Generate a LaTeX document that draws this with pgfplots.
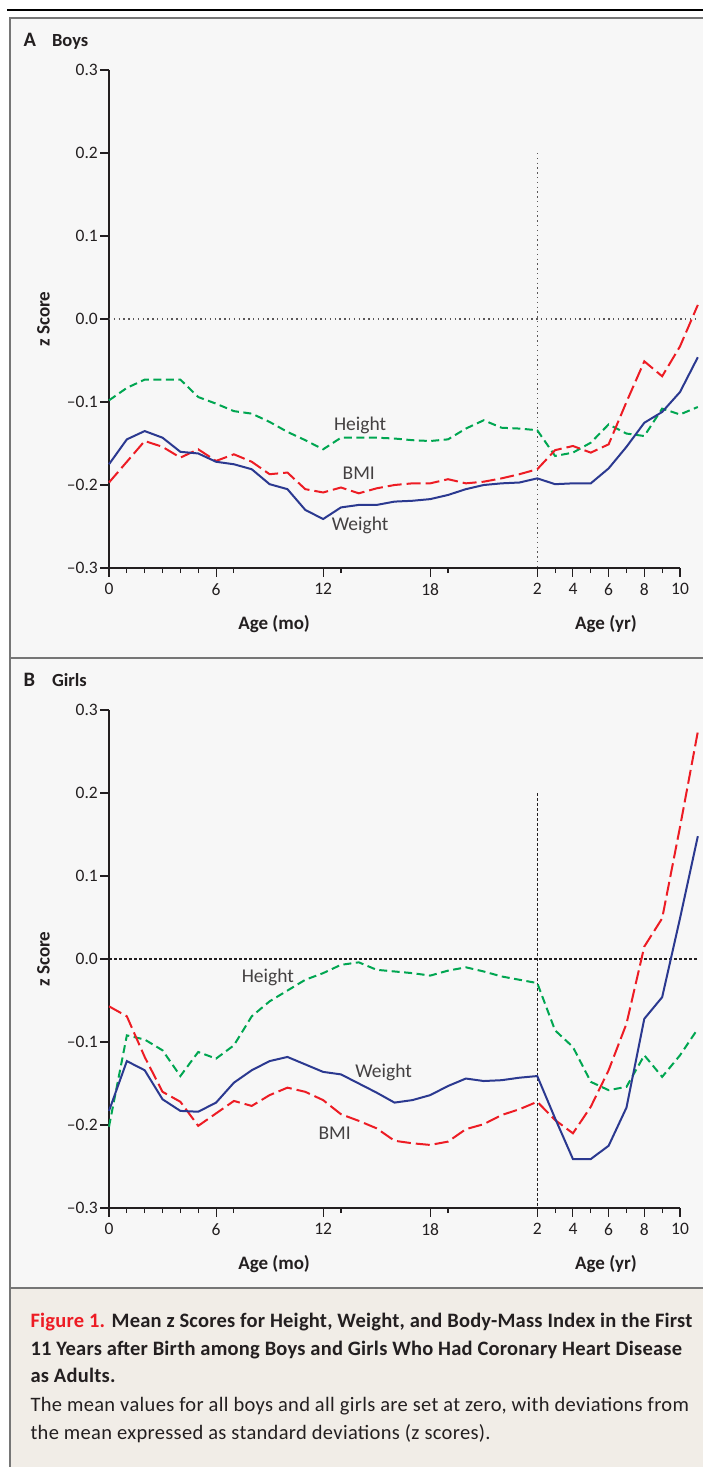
\documentclass[border=0pt]{standalone}
\usepackage{fontspec}
\setmainfont{Carlito}
\newfontfamily\capbold[LetterSpace=1.1]{Carlito Bold}
\newfontfamily\capreg[LetterSpace=1.6]{Carlito}
\usepackage{pgfplots}
\usepackage{pgfplotstable}
\pgfplotsset{compat=1.18}
\definecolor{wblue}{RGB}{43,57,144}
\definecolor{bred}{RGB}{237,28,36}
\definecolor{hgreen}{RGB}{0,166,81}
\definecolor{panelbg}{RGB}{247,247,247}
\definecolor{capbg}{RGB}{241,237,231}
\definecolor{framegray}{RGB}{118,118,118}
\definecolor{txt}{RGB}{35,31,32}

% x: months 0..24, then years 3..11 at 25..33
\pgfplotstableread{
x h w b
0 -0.098 -0.175 -0.197
1 -0.083 -0.145 -0.172
2 -0.073 -0.135 -0.147
3 -0.073 -0.143 -0.154
4 -0.073 -0.160 -0.167
5 -0.094 -0.162 -0.157
6 -0.102 -0.172 -0.171
7 -0.111 -0.175 -0.163
8 -0.114 -0.181 -0.172
9 -0.124 -0.199 -0.187
10 -0.136 -0.205 -0.185
11 -0.146 -0.230 -0.205
12 -0.157 -0.241 -0.209
13 -0.143 -0.227 -0.203
14 -0.143 -0.224 -0.210
15 -0.143 -0.224 -0.204
16 -0.144 -0.220 -0.200
17 -0.146 -0.219 -0.198
18 -0.147 -0.217 -0.198
19 -0.145 -0.212 -0.193
20 -0.132 -0.205 -0.198
21 -0.122 -0.200 -0.196
22 -0.131 -0.198 -0.192
23 -0.132 -0.197 -0.187
24 -0.134 -0.192 -0.181
25 -0.165 -0.199 -0.158
26 -0.161 -0.198 -0.153
27 -0.149 -0.198 -0.161
28 -0.127 -0.180 -0.151
29 -0.138 -0.154 -0.100
30 -0.141 -0.125 -0.051
31 -0.108 -0.112 -0.069
32 -0.115 -0.088 -0.033
33 -0.106 -0.046 0.017
}\boys

\pgfplotstableread{
x h w b
0 -0.202 -0.183 -0.057
1 -0.092 -0.123 -0.069
2 -0.097 -0.134 -0.118
3 -0.110 -0.169 -0.160
4 -0.141 -0.183 -0.172
5 -0.112 -0.184 -0.201
6 -0.120 -0.173 -0.186
7 -0.104 -0.149 -0.171
8 -0.069 -0.134 -0.177
9 -0.051 -0.123 -0.164
10 -0.038 -0.118 -0.155
11 -0.025 -0.127 -0.160
12 -0.017 -0.136 -0.170
13 -0.007 -0.139 -0.187
14 -0.004 -0.150 -0.195
15 -0.013 -0.161 -0.204
16 -0.015 -0.173 -0.219
17 -0.017 -0.170 -0.222
18 -0.020 -0.164 -0.224
19 -0.014 -0.153 -0.220
20 -0.010 -0.144 -0.205
21 -0.015 -0.147 -0.199
22 -0.021 -0.146 -0.188
23 -0.025 -0.143 -0.181
24 -0.029 -0.141 -0.172
25 -0.086 -0.192 -0.194
26 -0.106 -0.241 -0.210
27 -0.148 -0.241 -0.178
28 -0.158 -0.225 -0.134
29 -0.154 -0.179 -0.078
30 -0.116 -0.072 0.015
31 -0.142 -0.046 0.049
32 -0.116 0.049 0.159
33 -0.084 0.148 0.274
}\girls

\pgfplotsset{
  zpanel/.style={
    scale only axis, width=571pt, height=498pt,
    xmin=0, xmax=32, ymin=-0.3, ymax=0.3,
    axis x line*=bottom, axis y line*=left,
    axis line style={line width=1.2pt, color=txt},
    tick style={line width=1.1pt, color=txt},
    tick align=outside,
    major tick length=8.5pt, minor tick length=5pt,
    xtick={0,6,12,18,24,26,28,30,32},
    xticklabels={0,6,12,18,2,4,6,8,10},
    minor xtick={1,...,5,7,...,11,13,...,17,19,...,23,25,27,29,31},
    ytick={-0.3,-0.2,-0.1,0,0.1,0.2,0.3},
    yticklabels={–0.3,–0.2,–0.1,0.0,0.1,0.2,0.3},
    ticklabel style={font=\fontsize{17.5}{18}\selectfont, text=txt},
    yticklabel style={inner sep=2.5pt},
    xticklabel style={yshift=-3.5pt},
    clip=false,
  },
  hline/.style={line width=2pt, color=hgreen, dash pattern=on 8pt off 4.5pt},
  wline/.style={line width=2pt, color=wblue},
  bline/.style={line width=2pt, color=bred, dash pattern=on 14pt off 5pt},
}
\tikzset{lbl/.style={font=\fontsize{19.5}{20}\selectfont, text=txt!85}}

\begin{document}
\begin{tikzpicture}[x=1pt, y=1pt]
\useasboundingbox (0,0) rectangle (703,-1467);
\fill[white] (0,0) rectangle (703,-1467);
\fill[panelbg] (10,-18) rectangle (703,-1288);
\fill[capbg] (10,-1288) rectangle (703,-1467);
\draw[black, line width=2pt] (7,-10) -- (703,-10);
\draw[framegray, line width=2.6pt] (10,-1467) -- (10,-18) -- (703,-18);
\draw[framegray, line width=2.6pt] (10,-658) -- (703,-658);
\draw[framegray, line width=2.6pt] (10,-1288) -- (703,-1288);

% Panel A
\node[anchor=base west, font=\bfseries\fontsize{20.5}{21}\selectfont, text=txt] at (20,-46) {A};
\node[anchor=base west, font=\bfseries\fontsize{18.5}{19}\selectfont, text=txt] at (48.5,-46) {Boys};
\node[rotate=90, font=\bfseries\fontsize{19}{20}\selectfont, text=txt] at (43.5,-319) {z Score};
\node[font=\bfseries\fontsize{19}{20}\selectfont, text=txt] at (274,-624) {Age (mo)};
\node[font=\bfseries\fontsize{19}{20}\selectfont, text=txt] at (606,-624) {Age (yr)};

\begin{axis}[zpanel, at={(109pt,-568pt)}, anchor=south west]
  \draw[txt!75, line width=1.3pt, dash pattern=on 1.3pt off 3.5pt] (axis cs:0,0) -- (axis cs:33,0);
  \draw[txt!75, line width=1.3pt, dash pattern=on 1.3pt off 3.5pt] (axis cs:24,0.2) -- (axis cs:24,-0.3);
  \addplot[hline] table[x=x, y=h] {\boys};
  \addplot[bline] table[x=x, y=b] {\boys};
  \addplot[wline] table[x=x, y=w] {\boys};
  \node[lbl] at (axis cs:14.07,-0.1277) {Height};
  \node[lbl] at (axis cs:14.0,-0.1855) {BMI};
  \node[lbl] at (axis cs:14.07,-0.249) {Weight};
\end{axis}

% Panel B
\node[anchor=base west, font=\bfseries\fontsize{20.5}{21}\selectfont, text=txt] at (20,-686) {B};
\node[anchor=base west, font=\bfseries\fontsize{18.5}{19}\selectfont, text=txt] at (48.5,-686) {Girls};
\node[rotate=90, font=\bfseries\fontsize{19}{20}\selectfont, text=txt] at (43.5,-959) {z Score};
\node[font=\bfseries\fontsize{19}{20}\selectfont, text=txt] at (274,-1264) {Age (mo)};
\node[font=\bfseries\fontsize{19}{20}\selectfont, text=txt] at (606,-1264) {Age (yr)};

\begin{axis}[zpanel, at={(109pt,-1208pt)}, anchor=south west]
  \draw[txt, line width=1.2pt, dash pattern=on 2.5pt off 2.5pt] (axis cs:0,0) -- (axis cs:33,0);
  \draw[txt, line width=1.2pt, dash pattern=on 2.5pt off 2.5pt] (axis cs:24,0.2) -- (axis cs:24,-0.3);
  \addplot[hline] table[x=x, y=h] {\girls};
  \addplot[bline] table[x=x, y=b] {\girls};
  \addplot[wline] table[x=x, y=w] {\girls};
  \node[lbl] at (axis cs:8.9,-0.0217) {Height};
  \node[lbl] at (axis cs:15.39,-0.137) {Weight};
  \node[lbl] at (axis cs:12.65,-0.21) {BMI};
\end{axis}

% Caption
\node[anchor=base west, font=\capbold\fontsize{20.5}{27}\selectfont, text=txt] at (27,-1327) {\textcolor{bred}{Figure 1.} Mean z Scores for Height, Weight, and Body-Mass Index in the First};
\node[anchor=base west, font=\capbold\fontsize{20.5}{27}\selectfont, text=txt] at (27,-1355) {11 Years after Birth among Boys and Girls Who Had Coronary Heart Disease};
\node[anchor=base west, font=\capbold\fontsize{20.5}{27}\selectfont, text=txt] at (27,-1382) {as Adults.};
\node[anchor=base west, font=\capreg\fontsize{20.5}{27}\selectfont, text=txt] at (27,-1411) {The mean values for all boys and all girls are set at zero, with deviations from};
\node[anchor=base west, font=\capreg\fontsize{20.5}{27}\selectfont, text=txt] at (27,-1439) {the mean expressed as standard deviations (z scores).};
\end{tikzpicture}
\end{document}
